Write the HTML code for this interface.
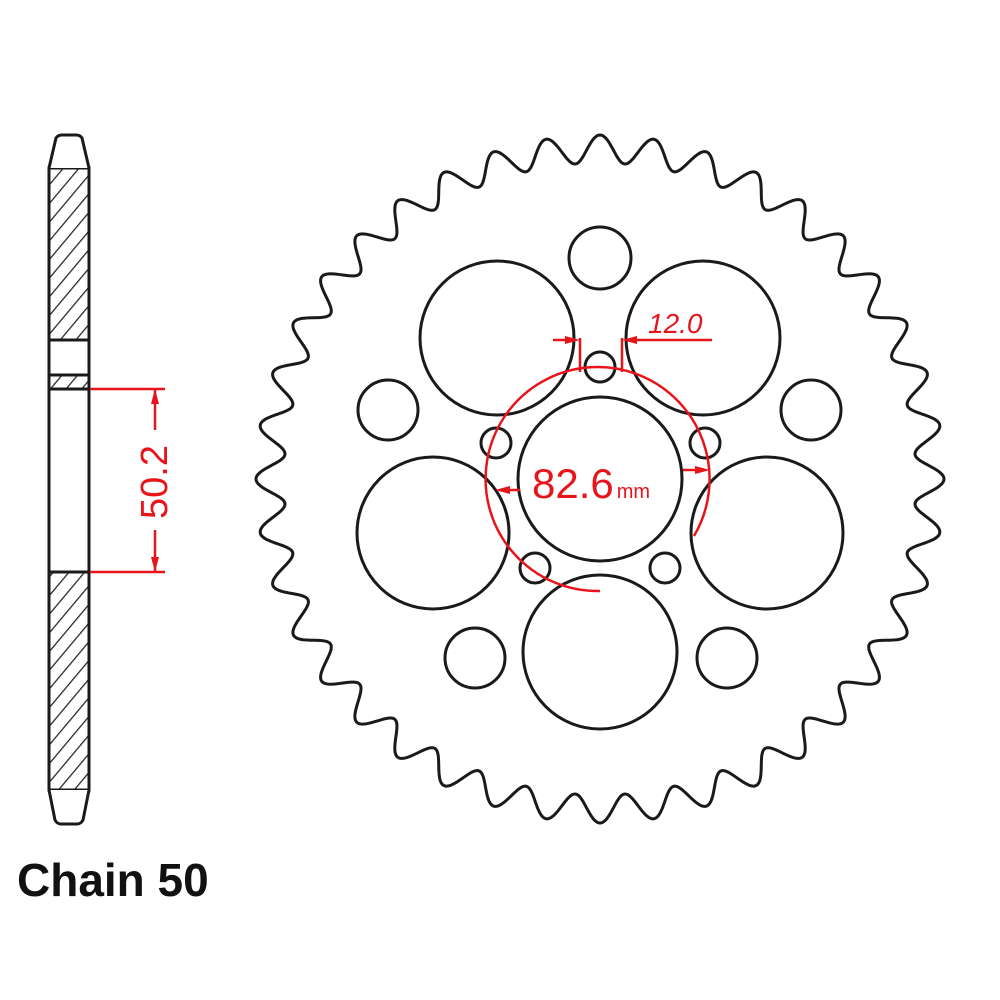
<!DOCTYPE html>
<html><head><meta charset="utf-8"><style>
html,body{margin:0;padding:0;background:#fff;width:1000px;height:1000px;overflow:hidden}
svg{display:block}
</style></head><body>
<svg id="s" width="1000" height="1000" viewBox="0 0 1000 1000" xmlns="http://www.w3.org/2000/svg">
<defs>
<pattern id="h" width="12" height="12" patternUnits="userSpaceOnUse" patternTransform="rotate(40)">
<line x1="0" y1="0" x2="0" y2="12" stroke="#222" stroke-width="2.5"/>
</pattern>
</defs>
<g fill="none" stroke="#1a1a1a" stroke-width="3">
<path id="gear" d=""/>
<circle cx="600" cy="479" r="82"/>
<circle cx="497" cy="338" r="77"/>
<circle cx="703" cy="338" r="77"/>
<circle cx="433" cy="533" r="76"/>
<circle cx="767" cy="533" r="76"/>
<circle cx="600" cy="652" r="77"/>
<circle cx="600" cy="258" r="31"/>
<circle cx="388" cy="410" r="30"/>
<circle cx="811" cy="410" r="30"/>
<circle cx="475" cy="658" r="30"/>
<circle cx="727" cy="658" r="30"/>
<circle cx="600" cy="367" r="15"/>
<circle cx="496" cy="443" r="15"/>
<circle cx="705" cy="443" r="15"/>
<circle cx="535" cy="568" r="15"/>
<circle cx="665" cy="568" r="15"/>
</g>
<g stroke="#1a1a1a" stroke-width="3">
<rect x="49" y="168" width="40" height="172" fill="url(#h)"/>
<rect x="49" y="340" width="40" height="35" fill="#fff"/>
<rect x="49" y="375" width="40" height="14" fill="url(#h)"/>
<rect x="49" y="389" width="40" height="183" fill="#fff"/>
<rect x="49" y="572" width="40" height="218" fill="url(#h)"/>
<path d="M49 168 L56 138 Q58 135 62 135 L76 135 Q80 135 82 138 L89 168" fill="#fff"/>
<path d="M49 790 L55 820 Q57 824 61 824 L77 824 Q81 824 83 820 L89 790" fill="#fff"/>
</g>
<g stroke="#e8141c" stroke-width="2.5" fill="none">
<line x1="90" y1="389" x2="165" y2="389"/>
<line x1="90" y1="572" x2="165" y2="572"/>
<line x1="155" y1="389" x2="155" y2="430"/>
<line x1="155" y1="530" x2="155" y2="572"/>
<path d="M694 536 A112 112 0 1 0 600 591"/>
<line x1="580" y1="338" x2="580" y2="372"/>
<line x1="622" y1="338" x2="622" y2="372"/>
<line x1="553" y1="340" x2="575" y2="340"/>
<line x1="627" y1="340" x2="712" y2="340"/>
<line x1="520" y1="490" x2="500" y2="490"/>
<line x1="683" y1="470" x2="705" y2="470"/>
</g>
<g fill="#e8141c">
<polygon points="155,389 151,404 159,404"/>
<polygon points="155,572 151,557 159,557"/>
<polygon points="580,340 565,336 565,344"/>
<polygon points="622,340 637,336 637,344"/>
<polygon points="495,490 510,486 510,494"/>
<polygon points="710,470 695,466 695,474"/>
</g>
<text x="0" y="0" transform="translate(167,482) rotate(-90)" text-anchor="middle" font-family="Liberation Sans, sans-serif" font-size="38" fill="#e8141c">50.2</text>
<text x="648" y="333" font-family="Liberation Sans, sans-serif" font-size="28" font-style="italic" fill="#e8141c">12.0</text>
<text x="532" y="498" font-family="Liberation Sans, sans-serif" font-size="42" fill="#e8141c">82.6<tspan font-size="20" dx="3">mm</tspan></text>
<text x="17" y="896" font-family="Liberation Sans, sans-serif" font-size="46" font-weight="bold" fill="#111">Chain 50</text>
</svg>
<script>
(function(){
var cx=600,cy=479,N=40,pts=[],M=2000;
for(var i=0;i<=M;i++){
 var t=i/M*2*Math.PI;
 var phi=N*t;
 var c=Math.cos(phi);
 var r=330+14*c;
 var a=-Math.PI/2+t;
 pts.push((cx+r*Math.cos(a)).toFixed(2)+" "+(cy+r*Math.sin(a)).toFixed(2));
}
document.getElementById('gear').setAttribute('d','M'+pts.join(' L')+'Z');
})();
</script>
</body></html>
